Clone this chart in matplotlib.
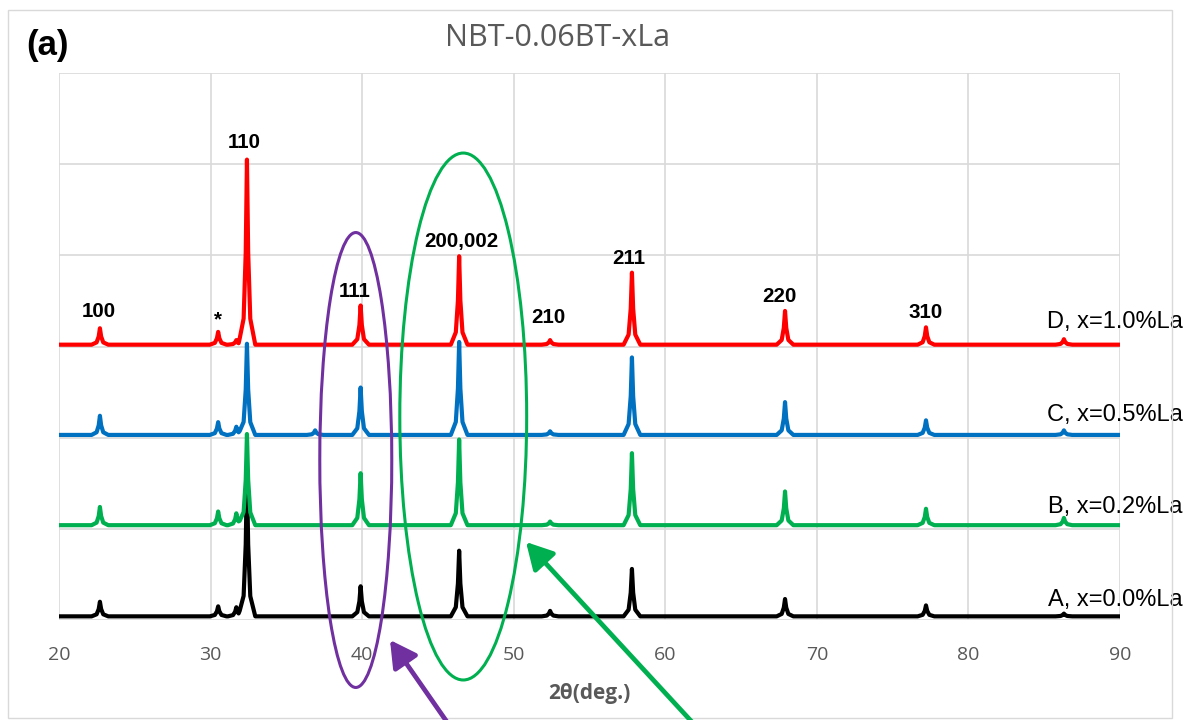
import numpy as np
import matplotlib
matplotlib.use("Agg")
import matplotlib.pyplot as plt
from matplotlib.patches import Ellipse, FancyArrowPatch, Rectangle

# ---------------- data ----------------
peak_pos = [22.7, 30.5, 31.7, 32.4, 36.9, 39.9, 46.4, 52.4, 57.8, 67.9, 77.2, 86.3]
peak_hkl = ["100", "*", "", "110", "", "111", "200,002", "210", "211", "220", "310", ""]

series_names = ["A, x=0.0%La", "B, x=0.2%La", "C, x=0.5%La", "D, x=1.0%La"]
series_colors = ["#000000", "#00B050", "#0070C0", "#FF0000"]
series_offset = [0.04, 1.04, 2.03, 3.02]

# peak heights above each baseline (gridline units)
heights_A = [0.16, 0.11, 0.10, 1.58, 0.00, 0.33, 0.72, 0.06, 0.52, 0.19, 0.12, 0.03]
heights_B = [0.20, 0.15, 0.13, 1.00, 0.00, 0.57, 0.94, 0.04, 0.79, 0.37, 0.18, 0.08]
heights_C = [0.21, 0.14, 0.09, 1.00, 0.05, 0.52, 1.02, 0.04, 0.85, 0.36, 0.16, 0.05]
heights_D = [0.18, 0.14, 0.05, 2.03, 0.00, 0.43, 0.97, 0.05, 0.79, 0.37, 0.19, 0.06]
series_heights = [heights_A, heights_B, heights_C, heights_D]

# label positions (2theta, y)
label_x = [22.6, 30.5, None, 32.2, None, 39.5, 46.57, 52.3, 57.57, 67.5, 77.2, None]
label_y = [3.38, 3.29, None, 5.24, None, 3.60, 4.15, 3.32, 3.97, 3.55, 3.37, None]
series_label_y = [0.22, 1.24, 2.25, 3.27]

x_ticks = [20, 30, 40, 50, 60, 70, 80, 90]

# ---------------- figure ----------------
W, H = 1191, 720
fig = plt.figure(figsize=(W / 100, H / 100), dpi=100)
fig.patch.set_facecolor("white")

# outer chart frame
fig.add_artist(Rectangle((8 / W, 1 - 718 / H), (1172 - 8) / W, (718 - 10) / H,
                         transform=fig.transFigure, fill=False,
                         edgecolor="#D9D9D9", lw=1.0))

ax = fig.add_axes([59 / W, 1 - 620 / H, (1120 - 59) / W, (620 - 73) / H])
ax.set_xlim(20, 90)
ax.set_ylim(0, 6)
for s in ax.spines.values():
    s.set_visible(False)
ax.set_xticks(x_ticks)
ax.set_yticks(range(0, 7))
ax.grid(True, color="#D9D9D9", lw=1.2)
ax.set_axisbelow(True)
ax.tick_params(axis="y", left=False, labelleft=False)
ax.tick_params(axis="x", bottom=False, pad=15, labelsize=14, labelcolor="#595959")
for lab in ax.get_xticklabels():
    lab.set_fontfamily("Open Sans")

# peak profile shape (relative offsets / fractions)
shape_dx = [-0.55, -0.22, -0.08, 0.0, 0.08, 0.22, 0.55]
shape_fr = [0.0, 0.14, 0.5, 1.0, 0.5, 0.14, 0.0]


def build_trace(heights, offset):
    xs = [20.0, 90.0]
    for p in peak_pos:
        xs += [p + d for d in shape_dx]
    xs = np.unique(np.array(xs))
    ys = np.full_like(xs, offset)
    for p, h in zip(peak_pos, heights):
        ys += h * np.interp(xs, [p + d for d in shape_dx], shape_fr, left=0, right=0)
    return xs, ys


draw_order = [1, 2, 3, 0]
for i in draw_order:
    xs, ys = build_trace(series_heights[i], series_offset[i])
    ax.plot(xs, ys, color=series_colors[i], lw=3.0, solid_joinstyle="round",
            solid_capstyle="round", zorder=3 + i)

for i, name in enumerate(series_names):
    ax.text(94.15, series_label_y[i], name, ha="right", va="center",
            fontsize=17, family="Liberation Sans", color="#000000", clip_on=False, zorder=10)

for hkl, lx, ly in zip(peak_hkl, label_x, label_y):
    if hkl and lx is not None:
        ax.text(lx, ly, hkl, ha="center", va="center", fontsize=14.8,
                family="Liberation Sans", fontweight="bold", color="#000000", zorder=10)

# ellipses
ax.add_patch(Ellipse((39.58, 1.755), 4.75, 4.99, fill=False, edgecolor="#7030A0",
                     lw=2.2, clip_on=False, zorder=9))
ax.add_patch(Ellipse((46.67, 2.232), 8.37, 5.78, fill=False, edgecolor="#00B050",
                     lw=2.2, clip_on=False, zorder=9))

# arrows (figure pixels, origin bottom-left)
for (tail, tip, col) in [((447, H - 722), (390, H - 640), "#7030A0"),
                         ((692, H - 722), (526, H - 542), "#00B050")]:
    fig.add_artist(FancyArrowPatch(tail, tip, transform=None,
                                   arrowstyle="-|>,head_length=1.0,head_width=0.55",
                                   mutation_scale=16, lw=3.4, color=col,
                                   shrinkA=0, shrinkB=0, zorder=20))

# texts
fig.text(558 / W, 1 - 38 / H, "NBT-0.06BT-xLa", ha="center", va="center",
         fontsize=22, family="Open Sans", color="#595959")
fig.text(48 / W, 1 - 45 / H, "(a)", ha="center", va="center",
         fontsize=25, family="Liberation Sans", fontweight="bold", color="#000000")
fig.text(589 / W, 1 - 693 / H, "2θ(deg.)", ha="center", va="center",
         fontsize=15, family="Open Sans", fontweight="bold", color="#595959")

fig.savefig("out.png", dpi=100)
